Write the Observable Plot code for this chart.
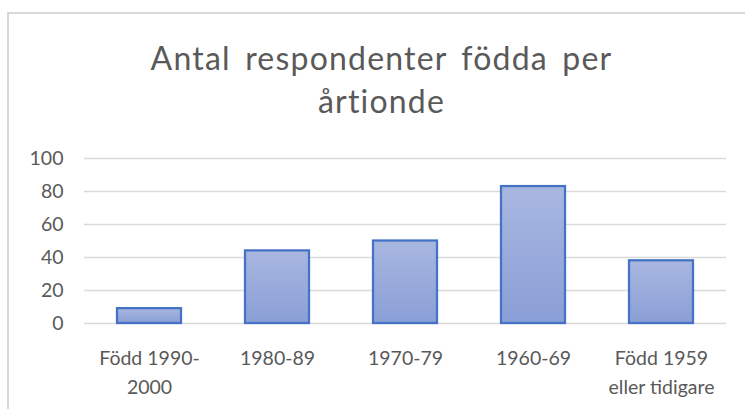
<!DOCTYPE html>
<html>
<head>
<meta charset="utf-8">
<script src="https://cdn.jsdelivr.net/npm/d3@7"></script>
<script src="https://cdn.jsdelivr.net/npm/@observablehq/plot@0.6"></script>
<style>
  html, body { margin: 0; padding: 0; background: #fff; }
  #wrap { position: relative; width: 745px; height: 409px; overflow: hidden; background: #fff; }
  #frame { position: absolute; left: 7px; top: 12px; width: 800px; height: 450px; border: 2px solid #d9d9d9; box-sizing: border-box; }
  #title { position: absolute; left: 0; top: 36px; width: 763px; text-align: center;
           font-family: Lato, sans-serif; font-size: 32px; line-height: 43px; color: #595959;
           letter-spacing: 1.2px; word-spacing: 5px; }
  #chart { position: absolute; left: 0; top: 140px; }
</style>
</head>
<body>
<div id="wrap">
  <div id="frame"></div>
  <div id="title">Antal respondenter födda per<br>årtionde</div>
  <div id="chart"></div>
</div>
<script>
const categories = ["Född 1990-2000", "1980-89", "1970-79", "1960-69", "Född 1959 eller tidigare"];
const tickLabels = ["Född 1990-\n2000", "1980-89", "1970-79", "1960-69", "Född 1959\neller tidigare"];
const values = [9, 44, 50, 83, 38];
const yTicks = [0, 20, 40, 60, 80, 100];

const data = categories.map((c, i) => ({cat: c, value: values[i]}));

const plot = Plot.plot({
  width: 745,
  height: 269,
  marginTop: 18,
  marginBottom: 86,
  marginLeft: 84,
  marginRight: 19,
  style: {fontFamily: "Lato, sans-serif", fontSize: "19.5px", color: "#595959", background: "transparent", overflow: "visible"},
  x: {domain: categories, paddingInner: 0.5, paddingOuter: 0.25},
  y: {domain: [0, 100]},
  marks: [
    Plot.gridY(yTicks, {stroke: "#d9d9d9", strokeOpacity: 1, strokeWidth: 1.5}),
    Plot.barY(data, {x: "cat", y: "value", fill: "url(#barGrad)", stroke: "#4472c4", strokeWidth: 2.25}),
    Plot.axisY(yTicks, {tickSize: 0, tickPadding: 21, label: null, fill: "#595959"}),
    Plot.axisX({tickSize: 0, tickPadding: 21, label: null, lineHeight: 1.48, fill: "#595959",
                tickFormat: d => tickLabels[categories.indexOf(d)]})
  ]
});

const defs = d3.select(plot).insert("defs", ":first-child");
const g = defs.append("linearGradient").attr("id", "barGrad").attr("x1", 0).attr("y1", 0).attr("x2", 0).attr("y2", 1);
g.append("stop").attr("offset", "0%").attr("stop-color", "#a9b7e0");
g.append("stop").attr("offset", "100%").attr("stop-color", "#8a9fd7");

document.getElementById("chart").appendChild(plot);
</script>
</body>
</html>
